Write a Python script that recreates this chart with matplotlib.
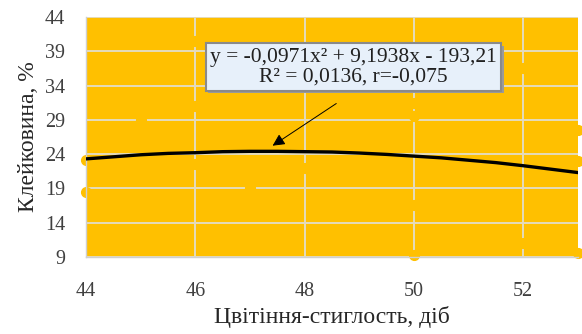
import matplotlib
matplotlib.use("Agg")
import matplotlib.pyplot as plt
import matplotlib.patheffects as pe

# trend line (half-day steps)
trend_x = [44, 44.5, 45, 45.5, 46, 46.5, 47, 47.5, 48, 48.5,
           49, 49.5, 50, 50.5, 51, 51.5, 52, 52.5, 53]
trend_y = [23.3, 23.6, 23.9, 24.1, 24.2, 24.35, 24.4, 24.4, 24.35, 24.3,
           24.15, 23.95, 23.7, 23.45, 23.1, 22.75, 22.3, 21.8, 21.3]

# observations (drawn in the background colour, only visible at the edges)
obs_x = [44, 44, 45, 46, 46, 46, 47, 48, 50, 50, 50, 50, 52, 52, 53, 53, 53]
obs_y = [18.5, 23.2, 29, 40.5, 31, 22.5, 19, 22, 29.5, 16.5, 9.2, 31.5, 36.5, 11, 23, 27.5, 9.5]

x_ticks = [44, 46, 48, 50, 52]
y_ticks = [9, 14, 19, 24, 29, 34, 39, 44]

eq_text = "y = -0,0971x\u00b2 + 9,1938x - 193,21\nR\u00b2 = 0,0136, r=-0,075"

orange = "#FFC000"
grid_col = "#e4dbbd"
serif = ["Liberation Serif", "DejaVu Serif"]

fig = plt.figure(figsize=(5.82, 3.34), dpi=100)
ax = fig.add_axes([0.148, 0.231, 0.845, 0.718])
ax.set_facecolor(orange)

ax.set_xlim(44, 53)
ax.set_ylim(9, 44)
ax.set_xticks(x_ticks)
ax.set_yticks(y_ticks)
ax.grid(True, color=grid_col, linewidth=1.4, zorder=1)
ax.set_axisbelow(True)
ax.tick_params(length=0, labelsize=14.5, colors="#404040")
ax.tick_params(axis="x", pad=18)
ax.tick_params(axis="y", pad=15)
for lab in ax.get_xticklabels() + ax.get_yticklabels():
    lab.set_family(serif)
for s in ax.spines.values():
    s.set_color("#d0d0d0")
    s.set_linewidth(1.0)
ax.spines["top"].set_visible(False)
ax.spines["right"].set_visible(False)

ax.plot(obs_x, obs_y, "o", color=orange, markersize=7, zorder=2, clip_on=False)
ax.plot(trend_x, trend_y, color="black", linewidth=2.4, zorder=3)

ax.annotate("", xy=(47.37, 25.0), xytext=(48.62, 31.6),
            arrowprops=dict(arrowstyle="-|>", color="black", lw=0.7,
                            mutation_scale=18), zorder=4)

t = ax.text(48.89, 36.7, eq_text, ha="center", va="center", fontsize=15.5,
            family=serif, color="#202020", linespacing=1.05, zorder=5,
            bbox=dict(boxstyle="square,pad=0.2", facecolor="#e7f0fa",
                      edgecolor="#8a8a8a", linewidth=1.5))
t.get_bbox_patch().set_path_effects(
    [pe.withSimplePatchShadow(offset=(2, -2), shadow_rgbFace="#9a9a9a", alpha=1.0)])

ax.set_xlabel("Цвітіння-стиглость, діб", family=serif, fontsize=17,
              color="#262626", labelpad=4)
ax.set_ylabel("Клейковина, %", family=serif, fontsize=17,
              color="#262626", labelpad=4)

fig.savefig("out.png", dpi=100)
